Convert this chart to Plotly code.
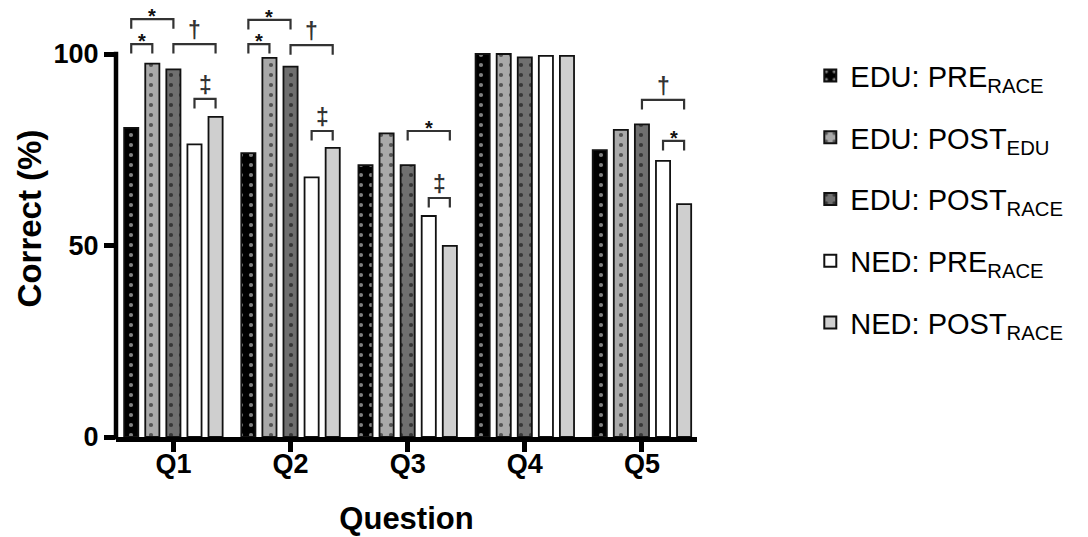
import plotly.graph_objects as go

# ---------------- data ----------------
questions = ["Q1", "Q2", "Q3", "Q4", "Q5"]
series_names = [
    "EDU: PRE<sub>RACE</sub>",
    "EDU: POST<sub>EDU</sub>",
    "EDU: POST<sub>RACE</sub>",
    "NED: PRE<sub>RACE</sub>",
    "NED: POST<sub>RACE</sub>",
]
edu_pre_race = [80.7, 74.1, 71.0, 100.0, 74.9]
edu_post_edu = [97.5, 99.0, 79.3, 100.0, 80.2]
edu_post_race = [96.0, 96.7, 71.0, 99.1, 81.6]
ned_pre_race = [76.4, 67.8, 57.7, 99.5, 72.1]
ned_post_race = [83.6, 75.5, 49.9, 99.5, 60.8]
series_values = [edu_pre_race, edu_post_edu, edu_post_race, ned_pre_race, ned_post_race]

y_tick_values = [0, 50, 100]

# significance brackets: (question index, bar a, bar b, bracket height, label)
brackets = [
    (0, 0, 1, 102.6, "*"),
    (0, 0, 2, 109.1, "*"),
    (0, 2, 4, 102.6, "†"),
    (0, 3, 4, 88.3, "‡"),
    (1, 0, 1, 102.6, "*"),
    (1, 0, 2, 108.9, "*"),
    (1, 2, 4, 102.3, "†"),
    (1, 3, 4, 79.9, "‡"),
    (2, 2, 4, 79.9, "*"),
    (2, 3, 4, 62.4, "‡"),
    (4, 2, 4, 88.0, "†"),
    (4, 3, 4, 77.3, "*"),
]

# ---------------- styles ----------------
fills = ["#000000", "#a9a9a9", "#6f6f6f", "#ffffff", "#cfcfcf"]
dot_colors = ["#ffffff", "#000000", "#000000", None, None]
FONT = "Liberation Sans, Arial, sans-serif"
Y_MAX = 114.1
BARGAP = 0.1
N = len(series_values)
SLOT = (1 - BARGAP) / N
LEG = 2.5

fig = go.Figure()
for name, vals, fc, dc in zip(series_names, series_values, fills, dot_colors):
    marker = dict(color=fc, line=dict(color="#111111", width=1.8))
    if dc is not None:
        marker["pattern"] = dict(shape=".", fgcolor=dc, bgcolor=fc, size=10, solidity=0.14)
    fig.add_trace(go.Bar(x=questions, y=vals, name=name, marker=marker, legendgroup=name))

shapes = []
annotations = []
for q, a, b, h, lab in brackets:
    xa = q + (a - (N - 1) / 2) * SLOT
    xb = q + (b - (N - 1) / 2) * SLOT
    shapes.append(dict(
        type="path", xref="x", yref="y",
        path=f"M {xa},{h-LEG} L {xa},{h} L {xb},{h} L {xb},{h-LEG}",
        line=dict(color="#333333", width=2.2),
    ))
    if lab == "*":
        annotations.append(dict(x=(xa + xb) / 2, y=h, xref="x", yref="y", text="<b>*</b>",
                                showarrow=False, yanchor="bottom", yshift=-10,
                                font=dict(family=FONT, size=20, color="#111111")))
    else:
        annotations.append(dict(x=(xa + xb) / 2, y=h, xref="x", yref="y", text=lab,
                                showarrow=False, yanchor="bottom", yshift=-1,
                                font=dict(family=FONT, size=23, color="#333333", weight="bold")))

# y-axis line only from 0 to 100
shapes.append(dict(type="line", xref="paper", yref="paper", x0=0, x1=0,
                   y0=-0.006, y1=max(y_tick_values) / Y_MAX + 0.005,
                   line=dict(color="black", width=4.5)))

fig.update_layout(
    width=1088, height=537,
    margin=dict(l=116, r=391, t=0, b=100),
    paper_bgcolor="white", plot_bgcolor="white",
    barmode="group", bargap=BARGAP, bargroupgap=0.33,
    shapes=shapes, annotations=annotations,
    font=dict(family=FONT, color="black"),
    showlegend=True,
    legend=dict(x=1.195, y=0.885, xanchor="left", yanchor="top",
                font=dict(family=FONT, size=29, color="black"),
                tracegroupgap=21, itemsizing="constant"),
)
fig.update_xaxes(
    range=[-0.49, 4.47], showline=True, linecolor="black", linewidth=4.5,
    ticks="outside", ticklen=10, tickwidth=4.5, tickcolor="black",
    ticklabelstandoff=-11,
    tickfont=dict(family=FONT, size=27, color="black", weight="bold"),
    title=dict(text="<b>Question</b>", font=dict(family=FONT, size=31, color="black"), standoff=31),
    showgrid=False, zeroline=False,
)
fig.update_yaxes(
    range=[0, Y_MAX], tickvals=y_tick_values, showline=False,
    ticks="outside", ticklen=11, tickwidth=4.5, tickcolor="black",
    tickfont=dict(family=FONT, size=27, color="black", weight="bold"),
    title=dict(text="<b>Correct (%)</b>", font=dict(family=FONT, size=33, color="black"), standoff=1),
    showgrid=False, zeroline=False,
)

fig.write_html("out.html", config={"displayModeBar": False},
               post_script="document.body.style.margin='0';")
